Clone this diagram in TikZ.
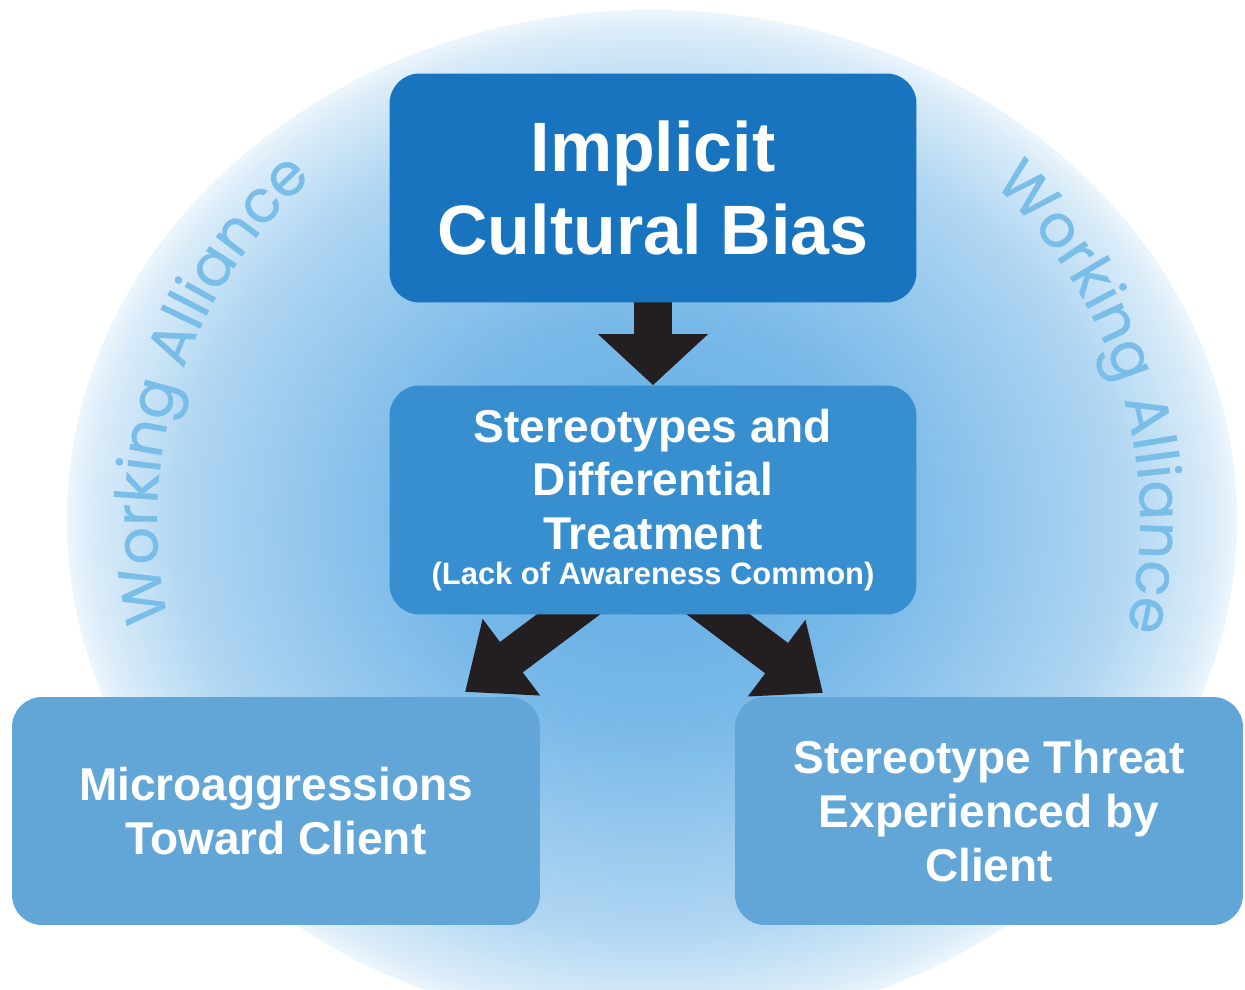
\documentclass[tikz,border=0pt]{standalone}
\usepackage{fontspec}
\setmainfont{Liberation Sans}
\newfontfamily\wafont{Poppins}[FakeBold=0.6]
\usetikzlibrary{arrows.meta,decorations.text}

\definecolor{boxdark}{RGB}{24,116,190}
\definecolor{boxmid}{RGB}{55,143,208}
\definecolor{boxlight}{RGB}{98,166,216}
\definecolor{arrowblk}{RGB}{35,31,32}
\definecolor{bgin}{RGB}{96,172,228}
\definecolor{bgout}{RGB}{218,236,249}
\definecolor{watext}{RGB}{120,190,232}

\pgfdeclareradialshading{wabg}{\pgfpointorigin}{color(0bp)=(bgin); color(10bp)=(bgin!80!bgout); color(20bp)=(bgin!35!bgout); color(24bp)=(bgout); color(25bp)=(bgout!50!white); color(50bp)=(white)}

\pgfdeclarelayer{bg}
\pgfsetlayers{bg,main}

\begin{document}
\begin{tikzpicture}[x=0.02cm, y=0.02cm,
	box/.style={rounded corners=0.6cm, text=white, align=center, inner sep=0pt},
	bigarrow/.style={arrowblk, line width=0.76cm, -{Triangle[length=1.02cm, width=2.14cm]}},
	slantarrow/.style={bigarrow, -{Triangle[length=1.16cm, width=1.84cm]}},
	curvetext/.style={decorate, decoration={text along path, text align=center,
		text={|\wafont\fontsize{33.5pt}{33.5pt}\selectfont\color{watext}|Working Alliance}}}]

	\useasboundingbox (0,0) rectangle (1245,990);

%boxes
	\node[box, fill=boxdark, minimum width=10.54cm, minimum height=4.58cm,
		font=\bfseries\fontsize{39.8pt}{47.2pt}\selectfont] (bias) at (653,802)
		{Implicit\\Cultural Bias};
	\node[box, fill=boxmid, minimum width=10.54cm, minimum height=4.58cm,
		font=\bfseries\fontsize{26.2pt}{30.7pt}\selectfont] (stereo) at (653,490)
		{Stereotypes and\\Differential\\Treatment\\[-10.8pt]
		 \fontsize{17.6pt}{20pt}\selectfont (Lack of Awareness Common)};
	\node[box, fill=boxlight, minimum width=10.56cm, minimum height=4.56cm,
		font=\bfseries\fontsize{26.2pt}{30.7pt}\selectfont] (micro) at (276,179)
		{Microaggressions\\Toward Client};
	\node[box, fill=boxlight, minimum width=10.16cm, minimum height=4.56cm,
		font=\bfseries\fontsize{26.2pt}{30.7pt}\selectfont] (threat) at (989,179)
		{Stereotype Threat\\Experienced by\\Client};

%tips
	\coordinate (tipL) at (465,298);
	\coordinate (tipR) at (823,297);

	\begin{pgfonlayer}{bg}
		\fill[white] (0,0) rectangle (1245,990);
		\shade[shading=wabg] (652,470) ellipse [x radius=585, y radius=510];

%working alliance
		\path[curvetext] (652,470) ++(203:495 and 470) arc[start angle=203, end angle=123, x radius=495, y radius=470];
		\path[curvetext] (652,470) ++(56:488 and 470) arc[start angle=56, end angle=-24, x radius=488, y radius=470];

%arrows
		\draw[bigarrow] (bias.center) -- (stereo.north);
		\draw[slantarrow] ([xshift=1.36cm]stereo.center) -- (tipL);
		\draw[slantarrow] ([xshift=-1.74cm]stereo.center) -- (tipR);
	\end{pgfonlayer}

\end{tikzpicture}
\end{document}
